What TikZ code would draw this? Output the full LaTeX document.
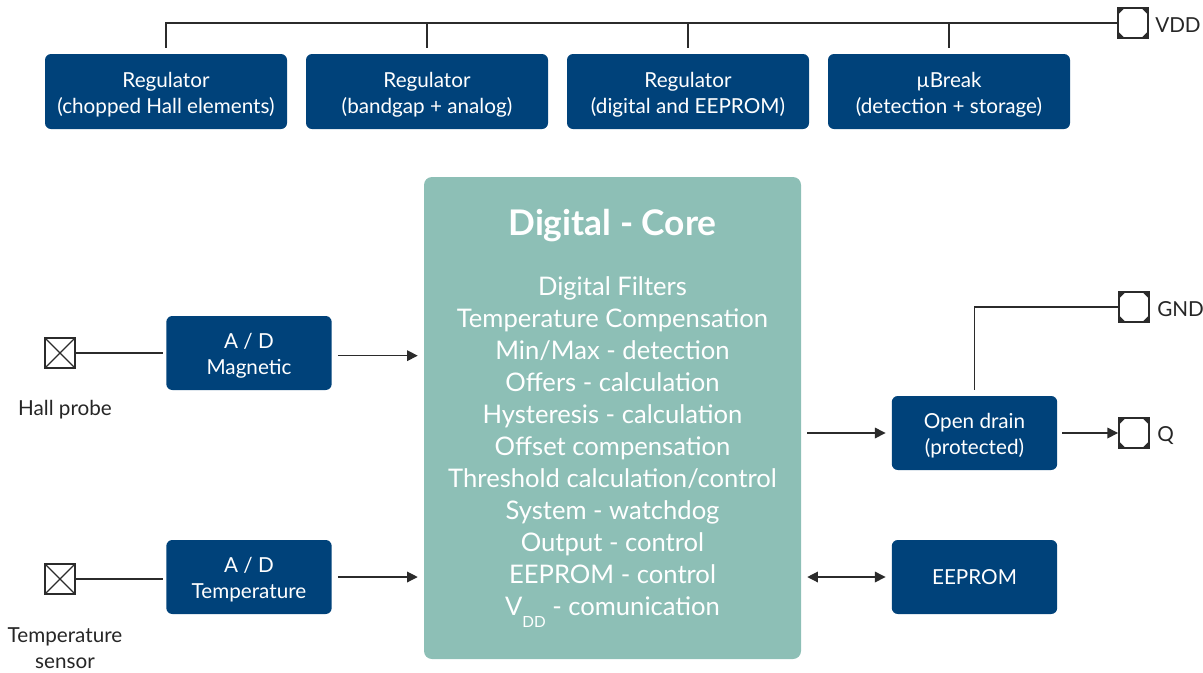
\documentclass[tikz,border=0pt]{standalone}
\usepackage{fontspec}
\setmainfont{Lato}
\usetikzlibrary{arrows.meta,calc}
\definecolor{dkblue}{HTML}{00427A}
\definecolor{coreg}{HTML}{8DBFB6}
\definecolor{wire}{HTML}{2B2B2B}
\newcommand\lowstrut{\rule{0pt}{16pt}}
\tikzset{
  blk/.style={fill=dkblue, rounded corners=4.5pt, text=white, align=center, inner sep=0pt,
    font=\fontsize{15.5}{19.5}\selectfont},
  regbox/.style={blk, minimum width=181.5pt, minimum height=56.25pt},
  smallbox/.style={blk, minimum width=124pt, minimum height=55.5pt},
  pad/.style={draw=wire, line width=1.4pt, fill=white, minimum size=22.5pt, inner sep=0pt,
    path picture={
      \fill[wire] (path picture bounding box.north west) -- ++(5pt,0) -- ++(-5pt,-5pt) -- cycle;
      \fill[wire] (path picture bounding box.north east) -- ++(-5pt,0) -- ++(5pt,-5pt) -- cycle;
      \fill[wire] (path picture bounding box.south west) -- ++(5pt,0) -- ++(-5pt,5pt) -- cycle;
      \fill[wire] (path picture bounding box.south east) -- ++(-5pt,0) -- ++(5pt,5pt) -- cycle;
    }},
  sensor/.style={draw=wire, line width=1.6pt, fill=white, minimum size=23pt, inner sep=0pt,
    path picture={
      \draw[wire, line width=0.9pt] (path picture bounding box.north west) -- (path picture bounding box.south east);
      \draw[wire, line width=0.9pt] (path picture bounding box.north east) -- (path picture bounding box.south west);
    }},
  lbl/.style={text=black!85, font=\fontsize{15.5}{19.5}\selectfont, align=center, inner sep=0pt},
  wireline/.style={draw=wire, line width=0.9pt},
  arr/.style={wireline, -{Triangle[length=8pt,width=8pt]}},
  darr/.style={wireline, {Triangle[length=8pt,width=8pt]}-{Triangle[length=8pt,width=8pt]}},
}
\begin{document}
\begin{tikzpicture}[x=0.75pt,y=-0.75pt]
\useasboundingbox (0,0) rectangle (1203,672);
% regulators
\node[regbox] (reg1) at (166,91.5) {\lowstrut Regulator\\(chopped Hall elements)};
\node[regbox] (reg2) at (427,91.5) {\lowstrut Regulator\\(bandgap + analog)};
\node[regbox] (reg3) at (688,91.5) {\lowstrut Regulator\\(digital and EEPROM)};
\node[regbox] (reg4) at (949,91.5) {\lowstrut µBreak\\(detection + storage)};
\node[pad] (vdd) at (1133,23) {};
\node[lbl, anchor=west] (vddl) at (1155,25) {VDD};
% core
\node[fill=coreg, rounded corners=6pt, minimum width=282.75pt, minimum height=361.5pt, inner sep=0pt] (core) at (612.5,418) {};
\node[text=white, font=\fontsize{26.5}{30}\selectfont\bfseries, inner sep=0pt] (coretitle) at (612.5,226) {Digital - Core};
\node[text=white, align=center, font=\fontsize{19.2}{24}\selectfont, inner sep=0pt] (corelist) at (612.5,452) {Digital Filters\\Temperature Compensation\\Min/Max - detection\\Offers - calculation\\Hysteresis - calculation\\Offset compensation\\Threshold calculation/control\\System - watchdog\\Output - control\\EEPROM - control\\V\raisebox{-0.9ex}{\fontsize{11.5}{11.5}\selectfont DD} - comunication};
% A/D
\node[smallbox] (adm) at (249,353) {\lowstrut A / D\\Magnetic};
\node[smallbox] (adt) at (249,577) {\lowstrut A / D\\Temperature};
\node[sensor] (hall) at (60,353) {};
\node[lbl] (halll) at (65,410) {Hall probe};
\node[sensor] (temp) at (60,579) {};
\node[lbl] (templ) at (65,648) {Temperature\\sensor};
% right side
\node[smallbox] (od) at (974.5,433) {\lowstrut Open drain\\(protected)};
\node[smallbox] (ee) at (974.5,577) {EEPROM};
\node[pad] (gnd) at (1134,307) {};
\node[lbl, anchor=west] (gndl) at (1157,309) {GND};
\node[pad] (q) at (1134,433) {};
\node[lbl, anchor=west] (ql) at (1157,436) {Q};
% connectors
\draw[wireline] (vdd.west) -- (vdd.west -| reg1.north) -- ([yshift=4pt]reg1.north);
\draw[wireline] (reg2.north |- vdd.west) -- ([yshift=4pt]reg2.north);
\draw[wireline] (reg3.north |- vdd.west) -- ([yshift=4pt]reg3.north);
\draw[wireline] (reg4.north |- vdd.west) -- ([yshift=4pt]reg4.north);
\draw[wireline] (hall.east) -- ([xshift=-2pt]adm.west |- hall.east);
\draw[wireline] (temp.east) -- ([xshift=-2pt]adt.west |- temp.east);
\draw[arr] ([xshift=4.5pt,yshift=-2pt]adm.east) -- ([xshift=-4.5pt,yshift=-2pt]adm.east -| core.west);
\draw[arr] ([xshift=4.5pt]adt.east) -- ([xshift=-4.5pt]adt.east -| core.west);
\draw[arr] ([xshift=4.5pt]od.west -| core.east) -- ([xshift=-4.5pt]od.west);
\draw[darr] ([xshift=4.5pt]ee.west -| core.east) -- ([xshift=-4.5pt]ee.west);
\draw[arr] ([xshift=3.5pt]od.east) -- (od.east -| q.west);
\draw[wireline] ([yshift=4.5pt]od.north) -- (od.north |- gnd.west) -- (gnd.west);
\end{tikzpicture}
\end{document}
